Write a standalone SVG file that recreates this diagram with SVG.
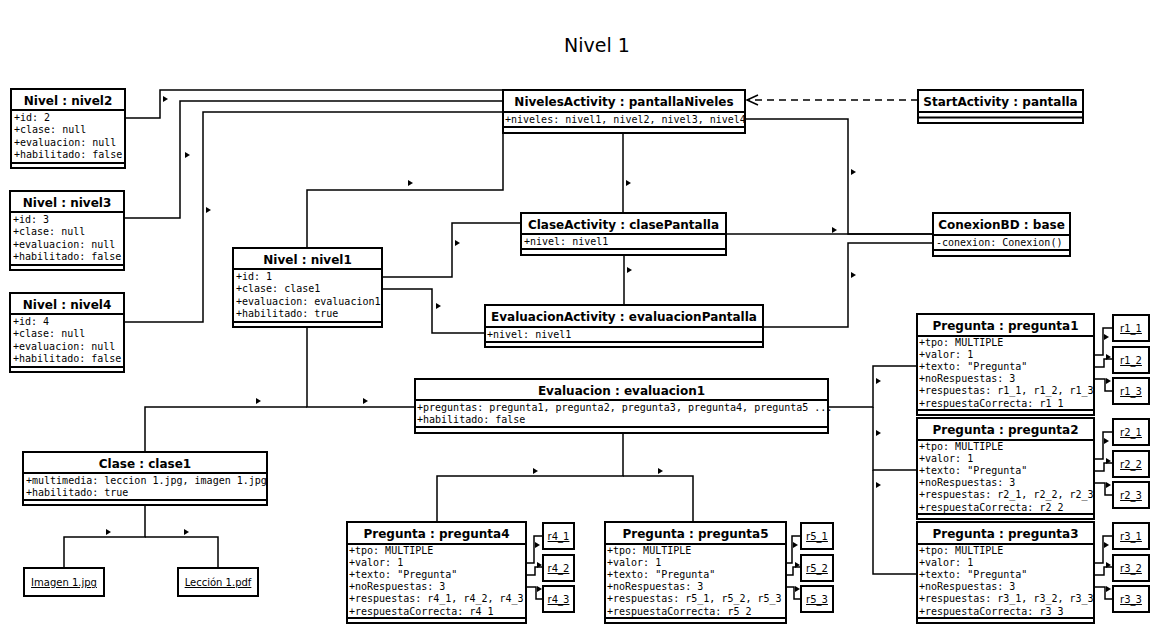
<svg xmlns="http://www.w3.org/2000/svg" width="1160" height="627" viewBox="0 0 1160 627">
  <style>
    .box { fill: #fff; stroke: #000; stroke-width: 2; }
    .sep { stroke: #000; stroke-width: 2; }
    .hd { font-family: "DejaVu Sans", sans-serif; font-weight: bold; font-size: 12px; text-anchor: middle; fill: #000; }
    .at { font-family: "DejaVu Sans Mono", monospace; font-size: 10px; fill: #000; }
    .lbl { font-family: "DejaVu Sans", sans-serif; font-size: 10px; text-anchor: middle; text-decoration: underline; fill: #000; }
    .cn { fill: none; stroke: #000; stroke-width: 1.5; }
    .dash { fill: none; stroke: #000; stroke-width: 1.5; stroke-dasharray: 7 5; }
    .title { font-family: "DejaVu Sans", sans-serif; font-size: 19px; text-anchor: middle; fill: #000; }
  </style>
  <defs>
    <path id="dir" d="M0,-3 L5,0 L0,3 Z" fill="#000"/>
  </defs>
  <rect width="1160" height="627" fill="#fff"/>
  <text class="title" x="597" y="52">Nivel 1</text>

  <!-- connectors -->
  <g id="connectors">
    <path class="cn" d="M125,118 H160 V90 H503"/>
    <path class="cn" d="M124,218 H180 V101 H503"/>
    <path class="cn" d="M124,322 H203 V112 H503"/>
    <path class="cn" d="M307,248 V190 H503 V133"/>
    <path class="cn" d="M623,133 V213"/>
    <path class="cn" d="M745,119 H848 V234 H933"/>
    <path class="cn" d="M726,234 H933"/>
    <path class="cn" d="M763,327 H848 V243 H933"/>
    <path class="cn" d="M382,277 H452 V223 H521"/>
    <path class="cn" d="M382,289 H432 V333 H485"/>
    <path class="cn" d="M624,255 V305"/>
    <path class="dash" d="M918,100 H747"/>
    <path class="cn" d="M758,95 L747,100 L758,105"/>
    <path class="cn" d="M307,327 V407 H415"/>
    <path class="cn" d="M307,407 H145 V452"/>
    <path class="cn" d="M145,505 V537 H64 V568"/>
    <path class="cn" d="M145,537 H218 V568"/>
    <path class="cn" d="M623,432 V476 H437 V522"/>
    <path class="cn" d="M623,476 H693 V522"/>
    <path class="cn" d="M828,407 H873 V366 H917"/>
    <path class="cn" d="M873,407 V470 H917"/>
    <path class="cn" d="M873,470 V574 H917"/>
    <!-- pregunta1 answers -->
    <path class="cn" d="M1094,355 H1103 V328 H1113"/>
    <path class="cn" d="M1094,367 H1104 V359 H1113"/>
    <path class="cn" d="M1094,379 H1105 V391 H1113"/>
    <!-- pregunta2 answers -->
    <path class="cn" d="M1094,459 H1103 V432 H1113"/>
    <path class="cn" d="M1094,471 H1104 V463 H1113"/>
    <path class="cn" d="M1094,483 H1105 V495 H1113"/>
    <!-- pregunta3 answers -->
    <path class="cn" d="M1094,563 H1103 V536 H1113"/>
    <path class="cn" d="M1094,575 H1104 V567 H1113"/>
    <path class="cn" d="M1094,587 H1105 V599 H1113"/>
    <!-- pregunta4 answers -->
    <path class="cn" d="M526,563 H534 V536 H543"/>
    <path class="cn" d="M526,575 H535 V567 H543"/>
    <path class="cn" d="M526,587 H536 V599 H543"/>
    <!-- pregunta5 answers -->
    <path class="cn" d="M786,563 H792 V536 H801"/>
    <path class="cn" d="M786,575 H793 V567 H801"/>
    <path class="cn" d="M786,587 H794 V599 H801"/>

    <!-- direction markers -->
    <use href="#dir" x="163" y="99"/>
    <use href="#dir" x="185" y="155"/>
    <use href="#dir" x="206" y="210"/>
    <use href="#dir" x="408" y="183"/>
    <use href="#dir" x="626" y="183"/>
    <use href="#dir" x="851" y="172"/>
    <use href="#dir" x="832" y="230"/>
    <use href="#dir" x="851" y="275"/>
    <use href="#dir" x="455" y="243"/>
    <use href="#dir" x="436" y="306"/>
    <use href="#dir" x="627" y="270"/>
    <use href="#dir" x="256" y="401"/>
    <use href="#dir" x="363" y="401"/>
    <use href="#dir" x="106" y="532"/>
    <use href="#dir" x="184" y="532"/>
    <use href="#dir" x="533" y="471"/>
    <use href="#dir" x="658" y="471"/>
    <use href="#dir" x="876" y="381"/>
    <use href="#dir" x="876" y="433"/>
    <use href="#dir" x="876" y="485"/>
    <use href="#dir" x="1104" y="337"/>
    <use href="#dir" x="1106" y="357"/>
    <use href="#dir" x="1106" y="381"/>
    <use href="#dir" x="1104" y="441"/>
    <use href="#dir" x="1106" y="461"/>
    <use href="#dir" x="1106" y="485"/>
    <use href="#dir" x="1104" y="545"/>
    <use href="#dir" x="1106" y="565"/>
    <use href="#dir" x="1106" y="589"/>
    <use href="#dir" x="535" y="545"/>
    <use href="#dir" x="537" y="565"/>
    <use href="#dir" x="537" y="589"/>
    <use href="#dir" x="793" y="545"/>
    <use href="#dir" x="795" y="565"/>
    <use href="#dir" x="795" y="589"/>
  </g>

  <g id="nivel2">
    <rect class="box" x="11" y="89" width="114" height="79"/>
    <line class="sep" x1="11" y1="110" x2="125" y2="110"/>
    <line class="sep" x1="11" y1="163" x2="125" y2="163"/>
    <text class="hd" x="68" y="104.5">Nivel : nivel2</text>
    <text class="at" x="14" y="120.5">+id: 2</text>
    <text class="at" x="14" y="133">+clase: null</text>
    <text class="at" x="14" y="145.5">+evaluacion: null</text>
    <text class="at" x="14" y="158">+habilitado: false</text>
  </g>

  <g id="nivel3">
    <rect class="box" x="10" y="191" width="114" height="79"/>
    <line class="sep" x1="10" y1="212" x2="124" y2="212"/>
    <line class="sep" x1="10" y1="265" x2="124" y2="265"/>
    <text class="hd" x="67" y="206.5">Nivel : nivel3</text>
    <text class="at" x="13" y="222.5">+id: 3</text>
    <text class="at" x="13" y="235">+clase: null</text>
    <text class="at" x="13" y="247.5">+evaluacion: null</text>
    <text class="at" x="13" y="260">+habilitado: false</text>
  </g>

  <g id="nivel4">
    <rect class="box" x="10" y="293" width="114" height="79"/>
    <line class="sep" x1="10" y1="314" x2="124" y2="314"/>
    <line class="sep" x1="10" y1="367" x2="124" y2="367"/>
    <text class="hd" x="67" y="308.5">Nivel : nivel4</text>
    <text class="at" x="13" y="324.5">+id: 4</text>
    <text class="at" x="13" y="337">+clase: null</text>
    <text class="at" x="13" y="349.5">+evaluacion: null</text>
    <text class="at" x="13" y="362">+habilitado: false</text>
  </g>

  <g id="nivel1">
    <rect class="box" x="233" y="248" width="149" height="79"/>
    <line class="sep" x1="233" y1="269" x2="382" y2="269"/>
    <line class="sep" x1="233" y1="322" x2="382" y2="322"/>
    <text class="hd" x="307.5" y="263.5">Nivel : nivel1</text>
    <text class="at" x="236" y="279.5">+id: 1</text>
    <text class="at" x="236" y="292">+clase: clase1</text>
    <text class="at" x="236" y="304.5">+evaluacion: evaluacion1</text>
    <text class="at" x="236" y="317">+habilitado: true</text>
  </g>

  <g id="nivelesActivity">
    <rect class="box" x="503" y="90" width="242" height="43"/>
    <line class="sep" x1="503" y1="112" x2="745" y2="112"/>
    <line class="sep" x1="503" y1="127" x2="745" y2="127"/>
    <text class="hd" x="624" y="106">NivelesActivity : pantallaNiveles</text>
    <text class="at" x="505" y="122.5">+niveles: nivel1, nivel2, nivel3, nivel4</text>
  </g>

  <g id="startActivity">
    <rect class="box" x="918" y="90" width="165" height="33"/>
    <line class="sep" x1="918" y1="112" x2="1083" y2="112"/>
    <line class="sep" x1="918" y1="117.5" x2="1083" y2="117.5"/>
    <text class="hd" x="1000.5" y="106">StartActivity : pantalla</text>
  </g>

  <g id="claseActivity">
    <rect class="box" x="521" y="213" width="205" height="42"/>
    <line class="sep" x1="521" y1="234" x2="726" y2="234"/>
    <line class="sep" x1="521" y1="249" x2="726" y2="249"/>
    <text class="hd" x="623.5" y="228.5">ClaseActivity : clasePantalla</text>
    <text class="at" x="524" y="244.5">+nivel: nivel1</text>
  </g>

  <g id="evaluacionActivity">
    <rect class="box" x="485" y="305" width="278" height="42"/>
    <line class="sep" x1="485" y1="327" x2="763" y2="327"/>
    <line class="sep" x1="485" y1="342" x2="763" y2="342"/>
    <text class="hd" x="624" y="321">EvaluacionActivity : evaluacionPantalla</text>
    <text class="at" x="487" y="337.5">+nivel: nivel1</text>
  </g>

  <g id="conexionBD">
    <rect class="box" x="933" y="213" width="137" height="43"/>
    <line class="sep" x1="933" y1="235" x2="1070" y2="235"/>
    <line class="sep" x1="933" y1="250" x2="1070" y2="250"/>
    <text class="hd" x="1001.5" y="229">ConexionBD : base</text>
    <text class="at" x="936" y="245.5">-conexion: Conexion()</text>
  </g>

  <g id="evaluacion1">
    <rect class="box" x="415" y="379" width="413" height="54"/>
    <line class="sep" x1="415" y1="400" x2="828" y2="400"/>
    <line class="sep" x1="415" y1="427" x2="828" y2="427"/>
    <text class="hd" x="621.5" y="394.5">Evaluacion : evaluacion1</text>
    <text class="at" x="417" y="410.5">+preguntas: pregunta1, pregunta2, pregunta3, pregunta4, pregunta5 ...</text>
    <text class="at" x="417" y="423">+habilitado: false</text>
  </g>

  <g id="clase1">
    <rect class="box" x="23" y="452" width="244" height="53"/>
    <line class="sep" x1="23" y1="473" x2="267" y2="473"/>
    <line class="sep" x1="23" y1="500" x2="267" y2="500"/>
    <text class="hd" x="145" y="467.5">Clase : clase1</text>
    <text class="at" x="26" y="483.5">+multimedia: leccion 1.jpg, imagen 1.jpg</text>
    <text class="at" x="26" y="496">+habilitado: true</text>
  </g>

  <g id="imagen1">
    <rect class="box" x="24" y="568" width="80" height="28"/>
    <text class="lbl" x="64" y="586">Imagen 1.jpg</text>
  </g>

  <g id="leccion1">
    <rect class="box" x="178" y="568" width="80" height="28"/>
    <text class="lbl" x="218" y="586">Lección 1.pdf</text>
  </g>

  <g id="pregunta1">
    <rect class="box" x="917" y="314" width="177" height="101"/>
    <line class="sep" x1="917" y1="336" x2="1094" y2="336"/>
    <line class="sep" x1="917" y1="410" x2="1094" y2="410"/>
    <text class="hd" x="1005.5" y="330">Pregunta : pregunta1</text>
    <text class="at" x="919" y="345.5">+tpo: MULTIPLE</text>
    <text class="at" x="919" y="357.7">+valor: 1</text>
    <text class="at" x="919" y="369.9">+texto: "Pregunta"</text>
    <text class="at" x="919" y="382.1">+noRespuestas: 3</text>
    <text class="at" x="919" y="394.3">+respuestas: r1_1, r1_2, r1_3</text>
    <text class="at" x="919" y="406.5">+respuestaCorrecta: r1_1</text>
  </g>

  <g id="pregunta2">
    <rect class="box" x="917" y="418" width="177" height="101"/>
    <line class="sep" x1="917" y1="440" x2="1094" y2="440"/>
    <line class="sep" x1="917" y1="514" x2="1094" y2="514"/>
    <text class="hd" x="1005.5" y="434">Pregunta : pregunta2</text>
    <text class="at" x="919" y="449.5">+tpo: MULTIPLE</text>
    <text class="at" x="919" y="461.7">+valor: 1</text>
    <text class="at" x="919" y="473.9">+texto: "Pregunta"</text>
    <text class="at" x="919" y="486.1">+noRespuestas: 3</text>
    <text class="at" x="919" y="498.3">+respuestas: r2_1, r2_2, r2_3</text>
    <text class="at" x="919" y="510.5">+respuestaCorrecta: r2_2</text>
  </g>

  <g id="pregunta3">
    <rect class="box" x="917" y="522" width="177" height="101"/>
    <line class="sep" x1="917" y1="544" x2="1094" y2="544"/>
    <line class="sep" x1="917" y1="618" x2="1094" y2="618"/>
    <text class="hd" x="1005.5" y="538">Pregunta : pregunta3</text>
    <text class="at" x="919" y="553.5">+tpo: MULTIPLE</text>
    <text class="at" x="919" y="565.7">+valor: 1</text>
    <text class="at" x="919" y="577.9">+texto: "Pregunta"</text>
    <text class="at" x="919" y="590.1">+noRespuestas: 3</text>
    <text class="at" x="919" y="602.3">+respuestas: r3_1, r3_2, r3_3</text>
    <text class="at" x="919" y="614.5">+respuestaCorrecta: r3_3</text>
  </g>

  <g id="pregunta4">
    <rect class="box" x="347" y="522" width="179" height="101"/>
    <line class="sep" x1="347" y1="544" x2="526" y2="544"/>
    <line class="sep" x1="347" y1="618" x2="526" y2="618"/>
    <text class="hd" x="436.5" y="538">Pregunta : pregunta4</text>
    <text class="at" x="349" y="553.5">+tpo: MULTIPLE</text>
    <text class="at" x="349" y="565.7">+valor: 1</text>
    <text class="at" x="349" y="577.9">+texto: "Pregunta"</text>
    <text class="at" x="349" y="590.1">+noRespuestas: 3</text>
    <text class="at" x="349" y="602.3">+respuestas: r4_1, r4_2, r4_3</text>
    <text class="at" x="349" y="614.5">+respuestaCorrecta: r4_1</text>
  </g>

  <g id="pregunta5">
    <rect class="box" x="605" y="522" width="181" height="101"/>
    <line class="sep" x1="605" y1="544" x2="786" y2="544"/>
    <line class="sep" x1="605" y1="618" x2="786" y2="618"/>
    <text class="hd" x="695.5" y="538">Pregunta : pregunta5</text>
    <text class="at" x="607" y="553.5">+tpo: MULTIPLE</text>
    <text class="at" x="607" y="565.7">+valor: 1</text>
    <text class="at" x="607" y="577.9">+texto: "Pregunta"</text>
    <text class="at" x="607" y="590.1">+noRespuestas: 3</text>
    <text class="at" x="607" y="602.3">+respuestas: r5_1, r5_2, r5_3</text>
    <text class="at" x="607" y="614.5">+respuestaCorrecta: r5_2</text>
  </g>

  <g id="r1_1"><rect class="box" x="1113" y="315" width="36" height="26"/><text class="lbl" x="1131" y="332">r1_1</text></g>
  <g id="r1_2"><rect class="box" x="1113" y="347" width="36" height="26"/><text class="lbl" x="1131" y="364">r1_2</text></g>
  <g id="r1_3"><rect class="box" x="1113" y="378" width="36" height="26"/><text class="lbl" x="1131" y="395">r1_3</text></g>
  <g id="r2_1"><rect class="box" x="1113" y="419" width="36" height="26"/><text class="lbl" x="1131" y="436">r2_1</text></g>
  <g id="r2_2"><rect class="box" x="1113" y="451" width="36" height="26"/><text class="lbl" x="1131" y="468">r2_2</text></g>
  <g id="r2_3"><rect class="box" x="1113" y="482" width="36" height="26"/><text class="lbl" x="1131" y="499">r2_3</text></g>
  <g id="r3_1"><rect class="box" x="1113" y="523" width="36" height="26"/><text class="lbl" x="1131" y="540">r3_1</text></g>
  <g id="r3_2"><rect class="box" x="1113" y="555" width="36" height="26"/><text class="lbl" x="1131" y="572">r3_2</text></g>
  <g id="r3_3"><rect class="box" x="1113" y="586" width="36" height="26"/><text class="lbl" x="1131" y="603">r3_3</text></g>
  <g id="r4_1"><rect class="box" x="543" y="523" width="31" height="26"/><text class="lbl" x="558.5" y="540">r4_1</text></g>
  <g id="r4_2"><rect class="box" x="543" y="555" width="31" height="26"/><text class="lbl" x="558.5" y="572">r4_2</text></g>
  <g id="r4_3"><rect class="box" x="543" y="586" width="31" height="26"/><text class="lbl" x="558.5" y="603">r4_3</text></g>
  <g id="r5_1"><rect class="box" x="801" y="523" width="32" height="26"/><text class="lbl" x="817" y="540">r5_1</text></g>
  <g id="r5_2"><rect class="box" x="801" y="555" width="32" height="26"/><text class="lbl" x="817" y="572">r5_2</text></g>
  <g id="r5_3"><rect class="box" x="801" y="586" width="32" height="26"/><text class="lbl" x="817" y="603">r5_3</text></g>
</svg>
